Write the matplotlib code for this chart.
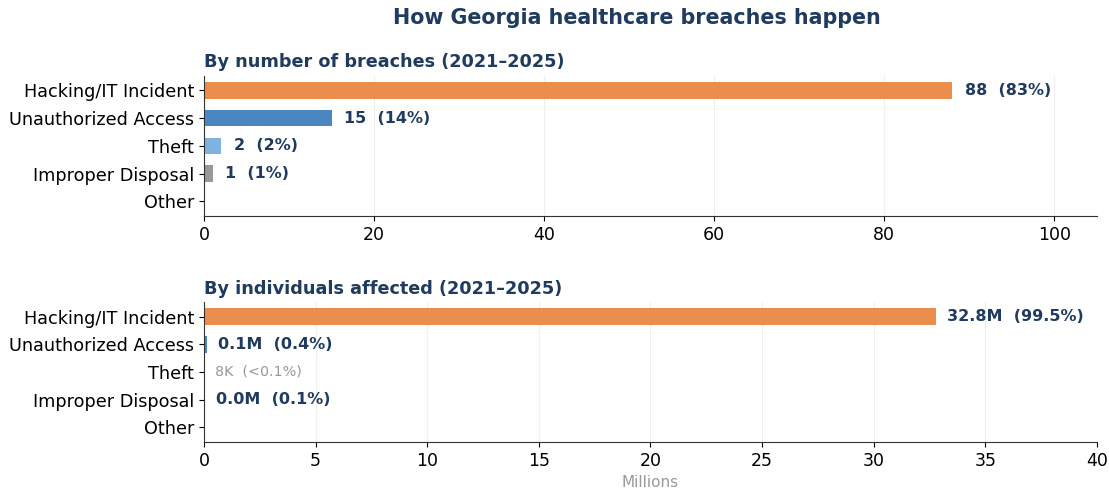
import numpy as np
import matplotlib.pyplot as plt

plt.rcParams["font.family"] = ["DejaVu Sans"]

# Data
categories = ["Hacking/IT Incident", "Unauthorized Access", "Theft", "Improper Disposal", "Other"]
breach_counts = [88, 15, 2, 1, 0]
individuals_m = [32.8, 0.13, 0.008, 0.033, 0.0]  # millions
bar_colors = ["#EB8D4C", "#4A87C2", "#7FB2E3", "#999999", "#BBBBBB"]

NAVY = "#1F3B60"

fig = plt.figure(figsize=(11.09, 4.92), dpi=100)
ax1 = fig.add_axes([0.184, 0.561, 0.805, 0.285])
ax2 = fig.add_axes([0.184, 0.102, 0.805, 0.284])

y = np.arange(len(categories))


def style_axis(ax):
    ax.spines["top"].set_visible(False)
    ax.spines["right"].set_visible(False)
    ax.spines["left"].set_color("#333333")
    ax.spines["bottom"].set_color("#333333")
    ax.grid(axis="x", color="#eeeeee", linewidth=0.8)
    ax.set_axisbelow(True)
    ax.set_yticks(y)
    ax.set_yticklabels(categories, fontsize=12.7)
    ax.tick_params(axis="x", labelsize=12.5)
    ax.set_ylim(4.53, -0.53)


# Top: number of breaches
total_b = sum(breach_counts)
ax1.barh(y, breach_counts, height=0.6, color=bar_colors)
style_axis(ax1)
ax1.set_xlim(0, 105)
ax1.set_xticks([0, 20, 40, 60, 80, 100])
for i, v in enumerate(breach_counts):
    if v == 0:
        continue
    pct = v / total_b * 100
    ax1.text(v + 1.5, i, f"{v}  ({pct:.0f}%)", va="center", ha="left",
             fontsize=11.5, fontweight="bold", color=NAVY)
ax1.set_title("By number of breaches (2021\u20132025)", loc="left", fontsize=12.7,
              fontweight="bold", color=NAVY, pad=6)

# Bottom: individuals affected
total_i = sum(individuals_m)
ax2.barh(y, individuals_m, height=0.6, color=bar_colors)
style_axis(ax2)
ax2.set_xlim(0, 40)
ax2.set_xticks([0, 5, 10, 15, 20, 25, 30, 35, 40])
for i, v in enumerate(individuals_m):
    if v == 0:
        continue
    pct = v / total_i * 100
    if pct < 0.1:
        ax2.text(v + 0.5, i, f"{v * 1000:.0f}K  (<0.1%)", va="center", ha="left",
                 fontsize=10.3, color="#999999")
    else:
        ax2.text(v + 0.5, i, f"{v:.1f}M  ({pct:.1f}%)", va="center", ha="left",
                 fontsize=11.5, fontweight="bold", color=NAVY)
ax2.set_title("By individuals affected (2021\u20132025)", loc="left", fontsize=12.7,
              fontweight="bold", color=NAVY, pad=6)
ax2.set_xlabel("Millions", fontsize=11, color="#999999", labelpad=4)

fig.text(0.574, 0.963, "How Georgia healthcare breaches happen", ha="center", va="center",
         fontsize=14.9, fontweight="bold", color=NAVY)

fig.savefig("out.png", dpi=100)
